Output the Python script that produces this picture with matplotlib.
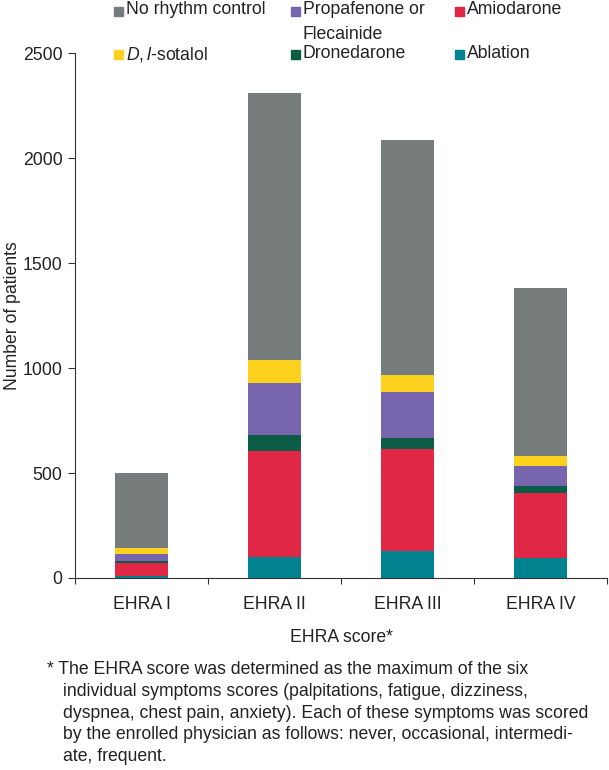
import matplotlib
matplotlib.use('Agg')
import matplotlib.pyplot as plt
import numpy as np
from matplotlib.patches import Rectangle

plt.rcParams['font.family'] = 'Liberation Sans'
plt.rcParams['mathtext.fontset'] = 'custom'
plt.rcParams['mathtext.it'] = 'Liberation Sans:italic'
plt.rcParams['mathtext.rm'] = 'Liberation Sans'

# data
categories = ['EHRA I', 'EHRA II', 'EHRA III', 'EHRA IV']
ablation = [10, 101, 128, 96]
amiodarone = [63, 503, 484, 311]
dronedarone = [9, 76, 55, 29]
propafenone = [32, 249, 221, 95]
sotalol = [27, 108, 78, 48]
no_rhythm = [359, 1273, 1121, 801]

series = [
    ('Ablation', ablation, '#00838f'),
    ('Amiodarone', amiodarone, '#e02846'),
    ('Dronedarone', dronedarone, '#0b5e45'),
    ('Propafenone or\nFlecainide', propafenone, '#7765ad'),
    (r'$\it{D,l}$-sotalol', sotalol, '#fcd21f'),
    ('No rhythm control', no_rhythm, '#767b7c'),
]

FS = 12.7
W, H = 609, 770

fig = plt.figure(figsize=(6.09, 7.7), dpi=100)
ax = fig.add_axes([75 / W, 1 - 578 / H, 532 / W, 525 / H])

x = np.arange(len(categories))
bottom = np.zeros(len(categories))
for name, vals, col in series:
    ax.bar(x, vals, width=0.4, bottom=bottom, color=col, linewidth=0)
    bottom += np.array(vals)

ax.set_xlim(-0.5, 3.5)
ax.set_ylim(0, 2500)
ax.set_yticks([0, 500, 1000, 1500, 2000, 2500])
ax.set_xticks([-0.5, 0.5, 1.5, 2.5, 3.5])
ax.set_xticklabels([])
ax.tick_params(axis='x', length=4, color='#333333')
ax.set_xticks(x, minor=True)
ax.set_xticklabels(categories, minor=True)
ax.tick_params(axis='x', which='minor', length=0, pad=13, labelsize=FS, labelcolor='#222222')
ax.tick_params(axis='y', length=5, pad=4, labelsize=FS, color='#333333', labelcolor='#222222')
for s in ['top', 'right']:
    ax.spines[s].set_visible(False)
for s in ['left', 'bottom']:
    ax.spines[s].set_color('#333333')
ax.set_ylabel('Number of patients', fontsize=FS, color='#222222')
ax.yaxis.set_label_coords((21 - 75) / 532, 0.5)
fig.text(341 / W, 1 - 638 / H, 'EHRA score*', ha='center', va='center', fontsize=FS,
         color='#222222')

# legend laid out by hand (3 columns, 2 rows)
leg = [
    ('No rhythm control', '#767b7c', 126, 11),
    ('Propafenone or\nFlecainide', '#7765ad', 303, 11),
    ('Amiodarone', '#e02846', 467, 11),
    (r'$\it{D,l}$-sotalol', '#fcd21f', 126, 54),
    ('Dronedarone', '#0b5e45', 303, 54),
    ('Ablation', '#00838f', 467, 54),
]
for lab, col, lx, ly in leg:
    fig.patches.append(Rectangle(((lx - 12) / W, 1 - (ly + 4.5) / H), 9 / W, 9 / H,
                                 transform=fig.transFigure, color=col))
    fig.text(lx / W, 1 - (ly - 9.5) / H, lab, ha='left', va='top', fontsize=FS,
             linespacing=1.55, color='#222222')

note = ['* The EHRA score was determined as the maximum of the six',
        'individual symptoms scores (palpitations, fatigue, dizziness,',
        'dyspnea, chest pain, anxiety). Each of these symptoms was scored',
        'by the enrolled physician as follows: never, occasional, intermedi-',
        'ate, frequent.']
for i, line in enumerate(note):
    fig.text((47 if i == 0 else 63) / W, 1 - (670 + i * 21.6) / H, line, ha='left',
             va='center', fontsize=FS, color='#222222')

fig.savefig('out.png', dpi=100)
